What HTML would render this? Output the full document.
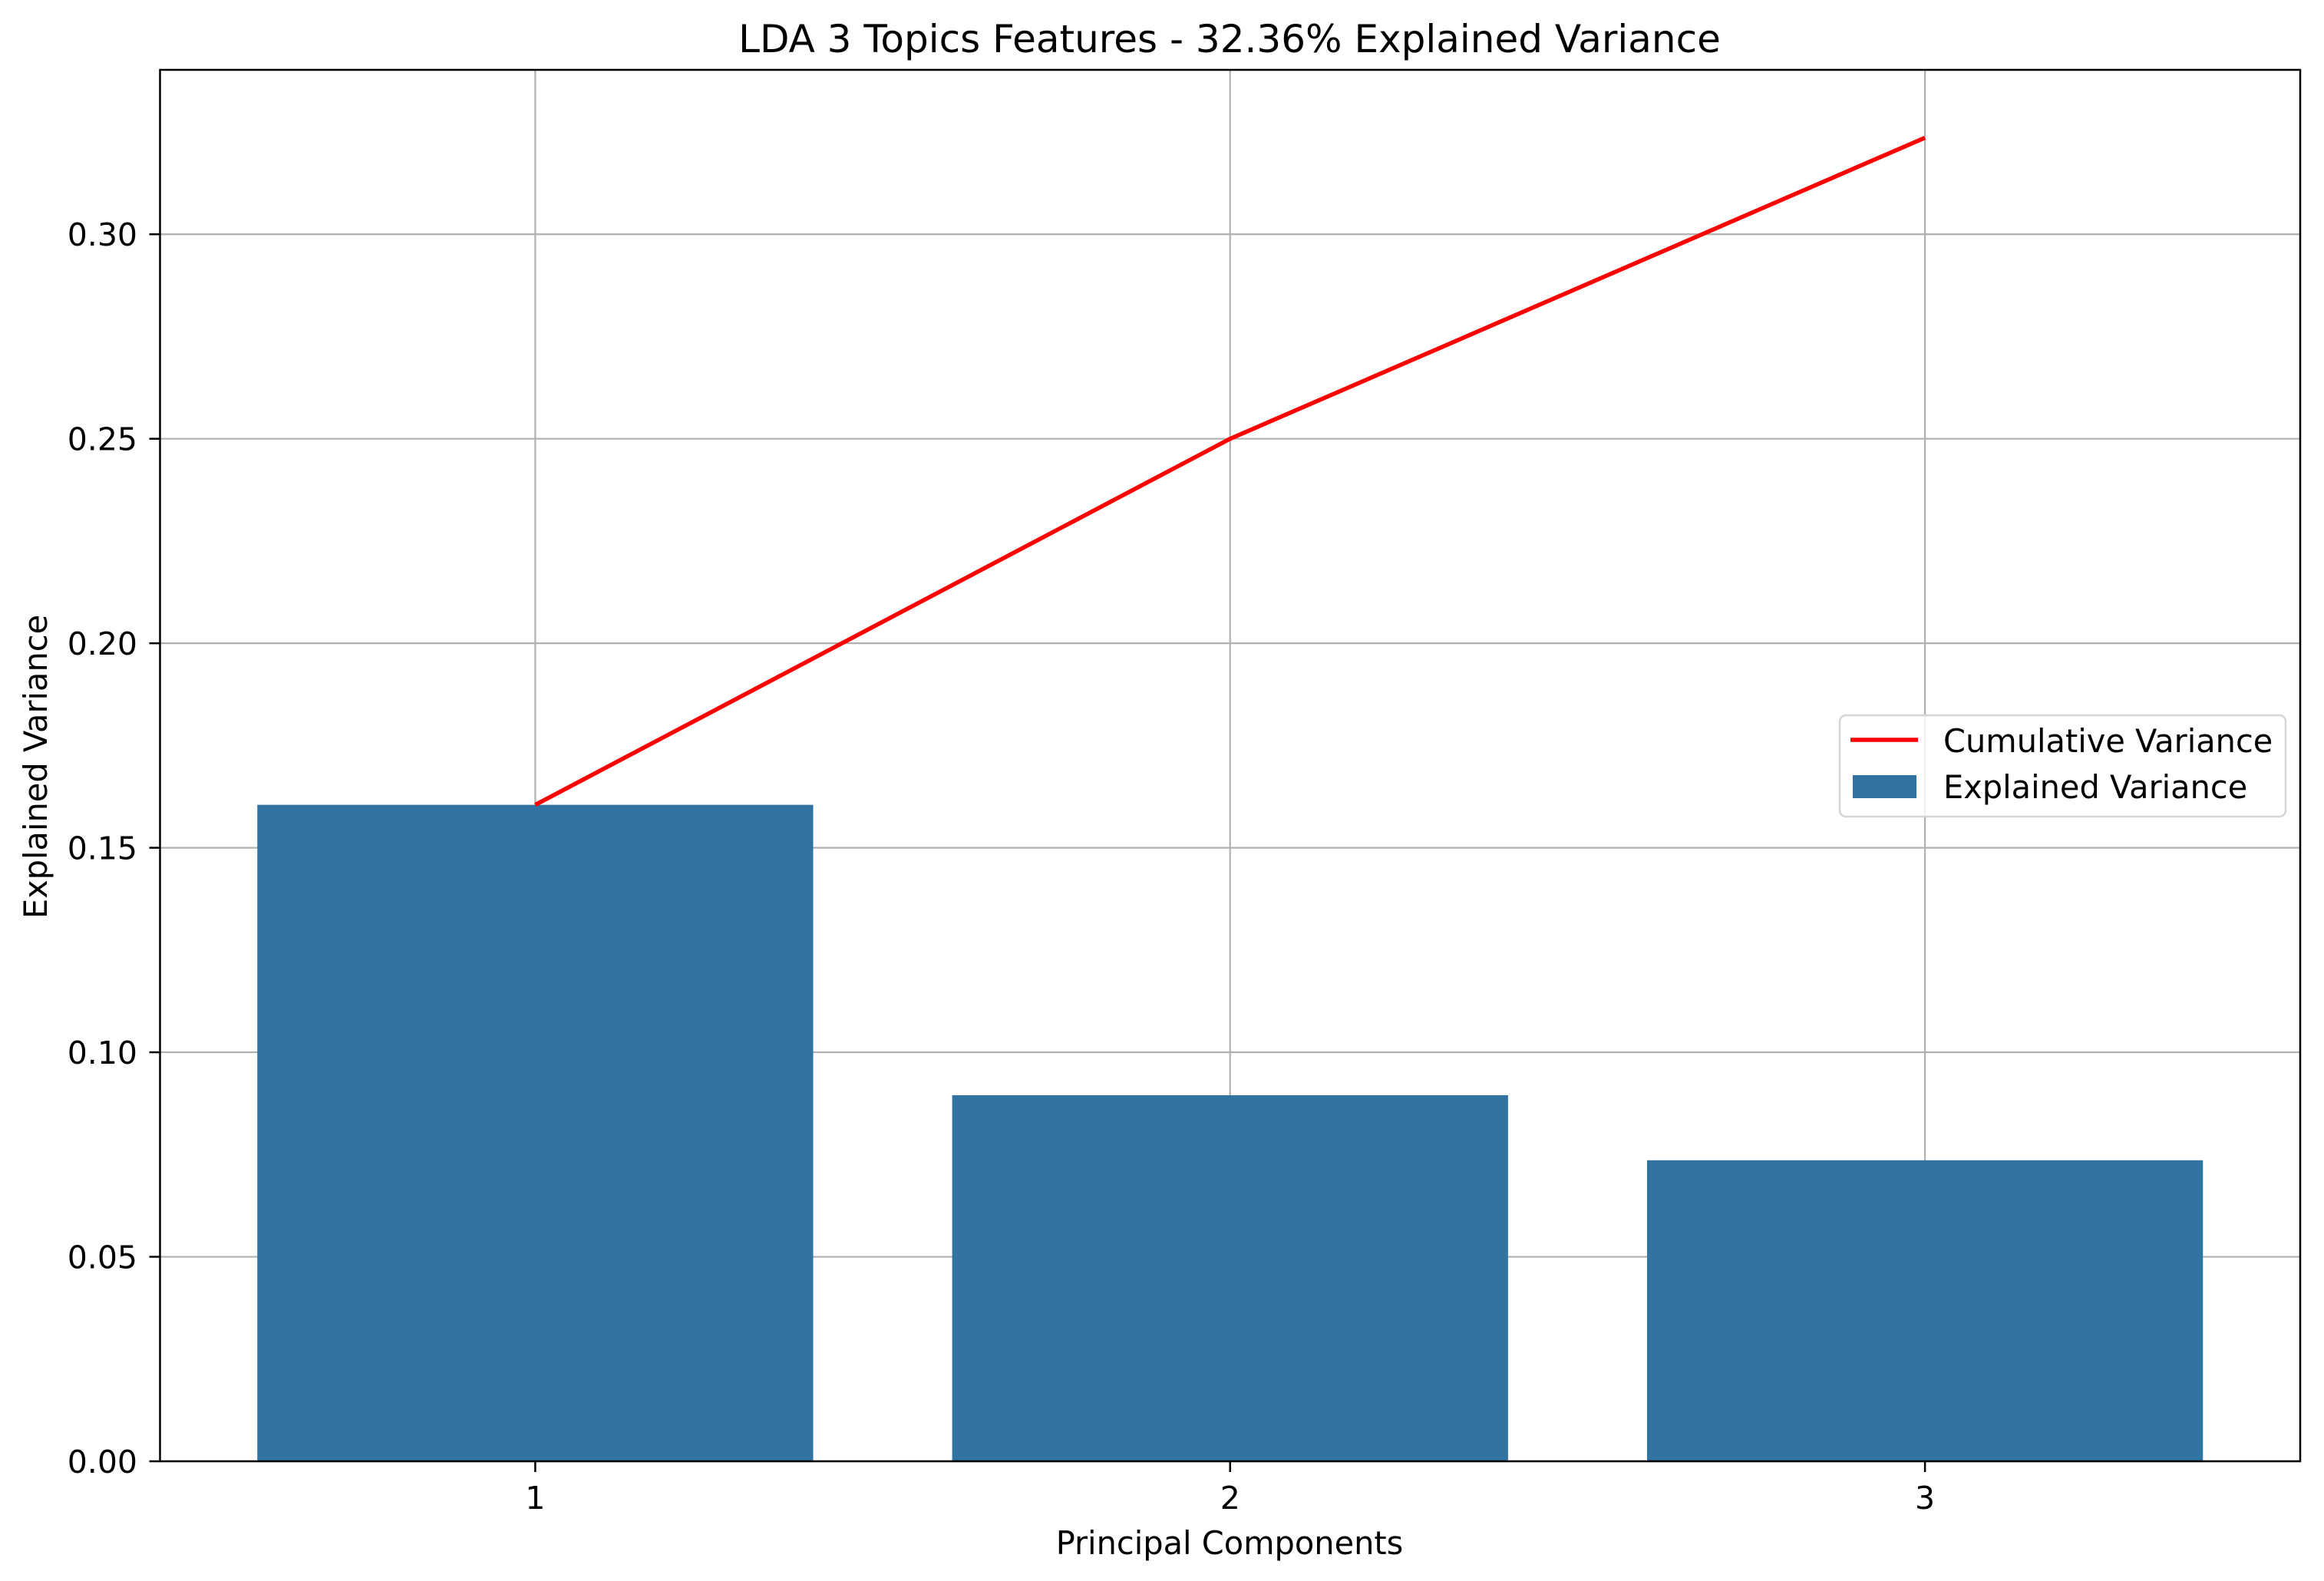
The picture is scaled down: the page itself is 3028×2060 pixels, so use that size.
<!DOCTYPE html>
<html><head><meta charset="utf-8"><style>
html,body{margin:0;padding:0;background:#fff;}
svg{display:block;font-family:"DejaVu Sans","Liberation Sans",sans-serif;}
</style></head><body>
<svg id="chart" width="3028" height="2060" viewBox="0 0 3028 2060">
<rect width="3028" height="2060" fill="#fff"/>
<text x="1602" y="68" font-size="50" text-anchor="middle">LDA 3 Topics Features - 32.36% Explained Variance</text>
<text x="1602" y="2025" font-size="41.5" text-anchor="middle">Principal Components</text>
<text transform="translate(61,999) rotate(-90)" font-size="41.5" text-anchor="middle">Explained Variance</text>
<g id="grid"></g><g id="bars"></g><g id="line"></g><g id="ticks"></g>
<rect x="208.5" y="91" width="2788.5" height="1813" fill="none" stroke="#000" stroke-width="2.5"/>
<g>
<rect x="2397" y="932" width="581" height="132" rx="8" fill="#fff" fill-opacity="0.8" stroke="#d5d5d5" stroke-width="2.5"/>
<line x1="2411" y1="964" x2="2499" y2="964" stroke="#ff0000" stroke-width="5.5"/>
<text x="2532" y="980" font-size="41.5">Cumulative Variance</text>
<rect x="2414" y="1010" width="83" height="30" fill="#3274a1"/>
<text x="2532" y="1040" font-size="41.5">Explained Variance</text>
</g>
</svg>
<script>
const categories = ["1","2","3"];
const explained = [0.1605, 0.0895, 0.0736];
const cumulative = [0.1605, 0.2500, 0.3236];
const yTicks = [0, 0.05, 0.10, 0.15, 0.20, 0.25, 0.30];
const yTickLabels = ["0.00","0.05","0.10","0.15","0.20","0.25","0.30"];

const L=208.5,R=2997,T=91,B=1904;
const yMax=0.3402, xMin=-0.54, xMax=categories.length-1+0.54;
const xs=i=>L+(i-xMin)/(xMax-xMin)*(R-L);
const ys=v=>B-v/yMax*(B-T);
const NS="http://www.w3.org/2000/svg";
function mk(tag,attrs,parent){const e=document.createElementNS(NS,tag);for(const k in attrs)e.setAttribute(k,attrs[k]);document.getElementById(parent).appendChild(e);return e;}
const step=xs(1)-xs(0);
explained.forEach((v,i)=>{
  const r=mk('rect',{x:xs(i)-0.4*step,y:ys(v),width:0.8*step,height:B-ys(v),fill:'#3274a1'},'bars');
  
  
});
categories.forEach((c,i)=>{
  const g=mk('line',{x1:xs(i),x2:xs(i),y1:T,y2:B,stroke:'#b0b0b0','stroke-width':2.2},'grid');
  
  
  const t=mk('line',{x1:xs(i),x2:xs(i),y1:B,y2:B+14,stroke:'#000','stroke-width':2.5},'ticks');
  
  
  const l=mk('text',{x:xs(i),y:1966,'font-size':41,'text-anchor':'middle'},'ticks');
  l.textContent=c;
  
  
});
yTicks.forEach((v,i)=>{
  const g=mk('line',{x1:L,x2:R,y1:ys(v),y2:ys(v),stroke:'#b0b0b0','stroke-width':2.2},'grid');
  
  
  const t=mk('line',{x1:L-14,x2:L,y1:ys(v),y2:ys(v),stroke:'#000','stroke-width':2.5},'ticks');
  
  
  const l=mk('text',{x:179,y:ys(v)+15,'font-size':41,'text-anchor':'end'},'ticks');
  l.textContent=yTickLabels[i];
  
  
});
const p=mk('polyline',{points:cumulative.map((v,i)=>xs(i)+','+ys(v)).join(' '),fill:'none',stroke:'#ff0000','stroke-width':5.5},'line');


</script>
</body></html>
